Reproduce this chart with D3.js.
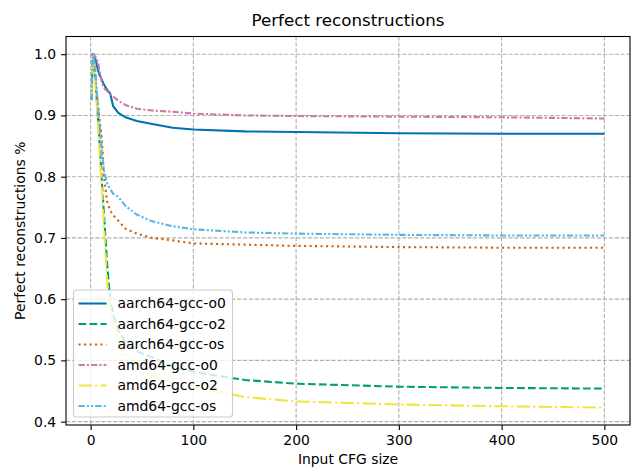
<!DOCTYPE html>
<html>
<head>
<meta charset="utf-8">
<script src="https://cdn.jsdelivr.net/npm/d3@7"></script>
<style>
  body { margin: 0; background: #fff; }
  svg { font-family: "DejaVu Sans", sans-serif; }
</style>
</head>
<body>
<svg width="632" height="467"></svg>
<script>
var sizes = [1, 2, 3, 5, 7, 9, 11, 13, 16, 19, 22, 27, 34, 45, 60, 80, 100, 150, 200, 300, 400, 500];

var aarch64O0 = [1.0, 1.0, 1.0, 0.99, 0.975, 0.965, 0.958, 0.95, 0.942, 0.936, 0.915, 0.904, 0.897, 0.891, 0.886, 0.88, 0.877, 0.874, 0.873, 0.871, 0.870, 0.870];
var aarch64O2 = [0.925, 1.0, 0.99, 0.95, 0.9, 0.85, 0.79, 0.74, 0.66, 0.6, 0.575, 0.548, 0.53, 0.515, 0.505, 0.49, 0.481, 0.468, 0.462, 0.457, 0.455, 0.454];
var aarch64Os = [1.0, 1.0, 0.99, 0.95, 0.92, 0.89, 0.86, 0.80, 0.76, 0.745, 0.737, 0.728, 0.715, 0.707, 0.70, 0.696, 0.691, 0.689, 0.687, 0.685, 0.684, 0.684];
var amd64O0 = [1.0, 1.0, 1.0, 0.995, 0.988, 0.97, 0.953, 0.945, 0.94, 0.935, 0.931, 0.924, 0.917, 0.911, 0.908, 0.906, 0.903, 0.9, 0.899, 0.898, 0.897, 0.895];
var amd64O2 = [0.93, 1.0, 0.99, 0.945, 0.89, 0.83, 0.78, 0.72, 0.63, 0.59, 0.555, 0.53, 0.51, 0.495, 0.475, 0.463, 0.457, 0.44, 0.433, 0.428, 0.425, 0.423];
var amd64Os = [0.925, 1.0, 1.0, 0.965, 0.92, 0.88, 0.84, 0.81, 0.79, 0.78, 0.772, 0.767, 0.752, 0.738, 0.727, 0.719, 0.714, 0.709, 0.707, 0.705, 0.704, 0.704];

var names = ["aarch64-gcc-o0", "aarch64-gcc-o2", "aarch64-gcc-os", "amd64-gcc-o0", "amd64-gcc-o2", "amd64-gcc-os"];
var xTicks = [0, 100, 200, 300, 400, 500];
var yTicks = [0.4, 0.5, 0.6, 0.7, 0.8, 0.9, 1.0];

var seriesValues = [aarch64O0, aarch64O2, aarch64Os, amd64O0, amd64O2, amd64Os];
var colors = ["#0072B2", "#009E73", "#D55E00", "#CC79A7", "#F0E442", "#56B4E9"];
var dashes = [null, "7.7,3.3", "2.1,3.4", "6.25,2.1,2.1,2.1", "13.3,3.3,2.1,3.3", "6.25,2.1,2.1,2.1,2.1,2.1"];

// plot area (note: "top" is taken by window.top, so prefixed names)
var pLeft = 66, pRight = 630, pTop = 36.5, pBottom = 425;

var svg = d3.select("svg");

var x = d3.scaleLinear().domain([-23.95, 524.95]).range([pLeft, pRight]);
var y = d3.scaleLinear().domain([0.3945, 1.0289]).range([pBottom, pTop]);

// grid
var grid = svg.append("g");
grid.selectAll(".gx").data(xTicks).enter().append("line")
  .attr("x1", function(d) { return x(d); }).attr("x2", function(d) { return x(d); })
  .attr("y1", pTop).attr("y2", pBottom);
grid.selectAll(".gy").data(yTicks).enter().append("line")
  .attr("y1", function(d) { return y(d); }).attr("y2", function(d) { return y(d); })
  .attr("x1", pLeft).attr("x2", pRight);
grid.selectAll("line")
  .attr("stroke", "#b0b0b0").attr("stroke-width", 1.1).attr("stroke-dasharray", "4.1,1.8");

svg.append("clipPath").attr("id", "clip").append("rect")
  .attr("x", pLeft).attr("y", pTop).attr("width", pRight - pLeft).attr("height", pBottom - pTop);

var line = d3.line()
  .x(function(d, i) { return x(sizes[i]); })
  .y(function(d) { return y(d); });

svg.append("g").attr("clip-path", "url(#clip)")
  .selectAll("path").data(seriesValues).enter().append("path")
  .attr("d", line)
  .attr("fill", "none")
  .attr("stroke", function(d, i) { return colors[i]; })
  .attr("stroke-width", 2.08)
  .attr("stroke-dasharray", function(d, i) { return dashes[i]; });

// axes
var xAxis = d3.axisBottom(x).tickValues(xTicks).tickFormat(d3.format("d")).tickSize(4.9).tickPadding(4.9);
var yAxis = d3.axisLeft(y).tickValues(yTicks).tickFormat(d3.format(".1f")).tickSize(4.9).tickPadding(4.9);

var gx = svg.append("g").attr("transform", "translate(0," + pBottom + ")").call(xAxis);
var gy = svg.append("g").attr("transform", "translate(" + pLeft + ",0)").call(yAxis);
[gx, gy].forEach(function(g) {
  g.select(".domain").remove();
  g.selectAll("line").attr("stroke", "#000").attr("stroke-width", 1.1);
  g.selectAll("text").attr("fill", "#000").style("font-size", "13.9px").style("font-family", "DejaVu Sans");
});

// spines
svg.append("rect").attr("x", pLeft).attr("y", pTop).attr("width", pRight - pLeft).attr("height", pBottom - pTop)
  .attr("fill", "none").attr("stroke", "#000").attr("stroke-width", 1.1);

// legend
var lg = svg.append("g");
lg.append("rect").attr("x", 73.5).attr("y", 290).attr("width", 159).attr("height", 127)
  .attr("rx", 3).attr("fill", "#fff").attr("fill-opacity", 0.8).attr("stroke", "#cccccc").attr("stroke-width", 1.1);
var items = lg.selectAll(".item").data(names).enter().append("g")
  .attr("transform", function(d, i) { return "translate(0," + (303.5 + i * 20.5) + ")"; });
items.append("line").attr("x1", 78.5).attr("x2", 106.5).attr("y1", 0).attr("y2", 0)
  .attr("stroke", function(d, i) { return colors[i]; })
  .attr("stroke-width", 2.08)
  .attr("stroke-dasharray", function(d, i) { return dashes[i]; });
items.append("text").attr("x", 117.5).attr("y", 0).attr("dy", "0.35em")
  .style("font-size", "13.9px").text(function(d) { return d; });

// titles
svg.append("text").attr("x", (pLeft + pRight) / 2).attr("y", 26).attr("text-anchor", "middle")
  .style("font-size", "16.7px").text("Perfect reconstructions");
svg.append("text").attr("x", (pLeft + pRight) / 2).attr("y", 464).attr("text-anchor", "middle")
  .style("font-size", "13.9px").text("Input CFG size");
svg.append("text").attr("transform", "translate(25," + ((pTop + pBottom) / 2) + ") rotate(-90)")
  .attr("text-anchor", "middle").style("font-size", "13.9px").text("Perfect reconstructions %");
</script>
</body>
</html>
